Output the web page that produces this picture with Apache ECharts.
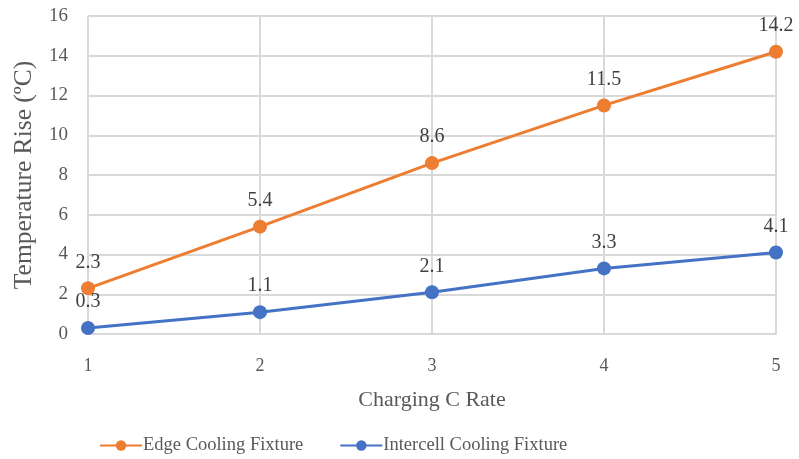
<!DOCTYPE html>
<html><head><meta charset="utf-8">
<script src="https://cdn.jsdelivr.net/npm/echarts@6/dist/echarts.min.js"></script>
<style>html,body{margin:0;padding:0;background:#fff}#c{width:799px;height:459px}</style>
</head><body><div id="c"></div>
<script>
var cRates = [1, 2, 3, 4, 5];
var edgeCooling = [2.3, 5.4, 8.6, 11.5, 14.2];
var intercellCooling = [0.3, 1.1, 2.1, 3.3, 4.1];
var seriesNames = ['Edge Cooling Fixture', 'Intercell Cooling Fixture'];
var xAxisTitle = 'Charging C Rate';
var yAxisTitle = 'Temperature Rise (ºC)';

var font = 'Liberation Serif, Times New Roman, serif';
var txt = '#595959';
function pairs(v){ return cRates.map(function(x,i){ return [x, v[i]]; }); }
var chart = echarts.init(document.getElementById('c'));
chart.setOption({
  animation: false,
  textStyle: {fontFamily: font},
  grid: {left: 88, right: 23, top: 16, bottom: 125, containLabel: false},
  legend: {
    top: 431, left: 94, itemGap: 36, itemWidth: 42, itemHeight: 13,
    textStyle: {fontFamily: font, fontSize: 18.5, color: txt, padding: [0,0,0,-4]},
    data: seriesNames
  },
  xAxis: {
    type: 'value', min: 1, max: 5, interval: 1,
    name: xAxisTitle, nameLocation: 'middle', nameGap: 55,
    nameTextStyle: {fontFamily: font, fontSize: 22, color: txt},
    axisLine: {show: true, lineStyle: {color: '#d9d9d9', width: 2}},
    axisTick: {show: false},
    axisLabel: {fontFamily: font, fontSize: 18, color: txt, margin: 23},
    splitLine: {show: true, lineStyle: {color: '#d9d9d9', width: 2}}
  },
  yAxis: {
    type: 'value', min: 0, max: 16, interval: 2,
    name: yAxisTitle, nameLocation: 'middle', nameGap: 51,
    nameTextStyle: {fontFamily: font, fontSize: 25.5, color: txt},
    axisLine: {show: false},
    axisTick: {show: false},
    axisLabel: {fontFamily: font, fontSize: 19, color: txt, margin: 20},
    splitLine: {show: true, lineStyle: {color: '#d9d9d9', width: 2}}
  },
  series: [
    {
      name: seriesNames[0], type: 'line', data: pairs(edgeCooling),
      symbol: 'circle', symbolSize: 14,
      itemStyle: {color: '#ED7D31'}, lineStyle: {color: '#ED7D31', width: 3},
      label: {show: true, position: 'top', distance: 9, fontFamily: font, fontSize: 20, color: '#404040'}
    },
    {
      name: seriesNames[1], type: 'line', data: pairs(intercellCooling),
      symbol: 'circle', symbolSize: 14,
      itemStyle: {color: '#4472C4'}, lineStyle: {color: '#4472C4', width: 3},
      label: {show: true, position: 'top', distance: 9, fontFamily: font, fontSize: 20, color: '#404040'}
    }
  ]
});
</script></body></html>
